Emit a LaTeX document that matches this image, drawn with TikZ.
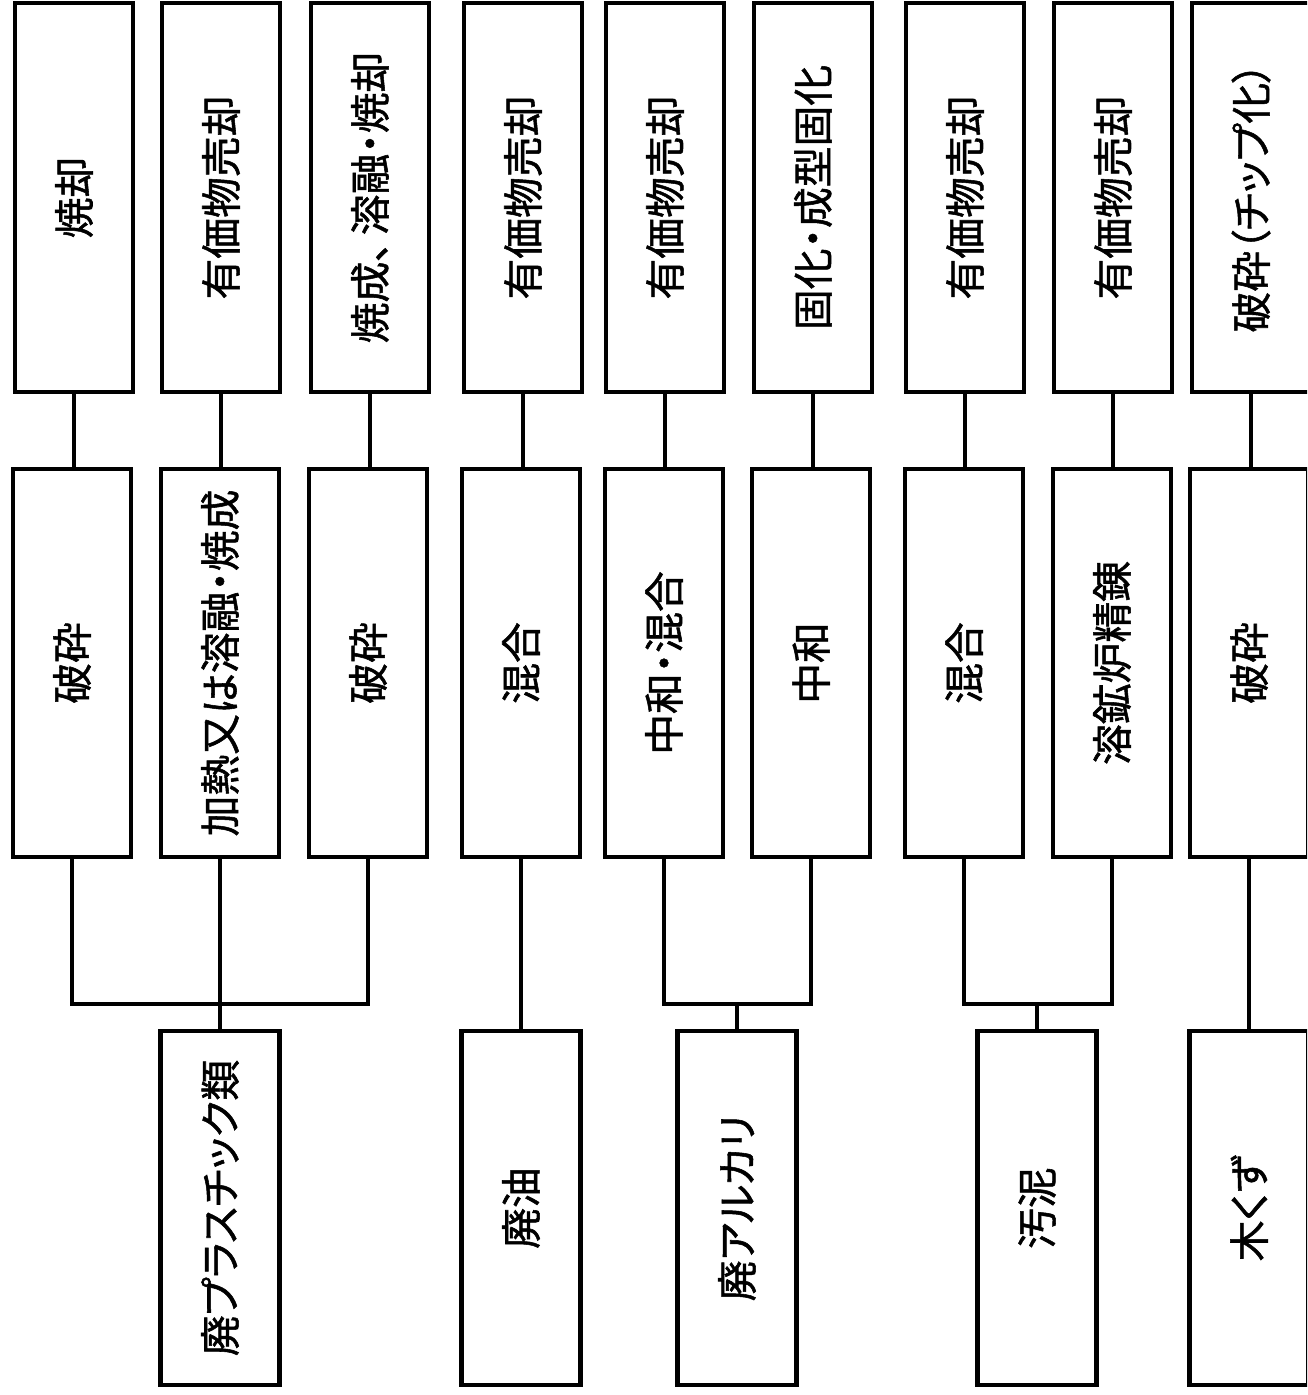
\documentclass[tikz,border=0pt]{standalone}
\usepackage{fontspec}
\setmainfont{Noto Sans CJK JP}[RawFeature={+palt}, FakeBold=1.3]
\usepackage{graphicx}
\usepackage{tikz}
\usetikzlibrary{positioning, calc}
\tikzset{
  flow/.style={
	x=0.01cm, y=-0.01cm, % one unit is one pixel of the sheet
	line width=1.3pt, % all lines as thick as the box borders
	every node/.style={font=\fontsize{11.6}{14}\selectfont},
  },
  procbox/.style={draw, line width=1.3pt, fill=white, inner sep=0pt, minimum width=1.18cm}, % a step of treatment
  topbox/.style={procbox, minimum height=3.89cm}, % last step
  midbox/.style={procbox, minimum height=3.88cm}, % first step
  wastebox/.style={procbox, minimum width=1.19cm, minimum height=3.54cm}, % kind of waste
}
\newcommand{\vtext}[1]{\rotatebox{90}{#1}}

\begin{document}
\begin{tikzpicture}[flow]
\clip (0,0) rectangle (1307,1395);
\fill[white] (0,0) rectangle (1307,1395);

% last steps
\node[topbox] (t1) at (74,197.5) {\vtext{焼却}};
\node[topbox] (t2) at (221,197.5) {\vtext{有価物売却}};
\node[topbox] (t3) at (370,197.5) {\vtext{焼成、\hspace{0.15em}溶融・焼却}};
\node[topbox] (t4) at (523,197.5) {\vtext{有価物売却}};
\node[topbox] (t5) at (665,197.5) {\vtext{有価物売却}};
\node[topbox] (t6) at (813,197.5) {\vtext{固化・成型固化}};
\node[topbox] (t7) at (965,197.5) {\vtext{有価物売却}};
\node[topbox] (t8) at (1113,197.5) {\vtext{有価物売却}};
\node[topbox] (t9) at (1251,197.5) {\vtext{破砕（チップ化）}};

% first steps
\node[midbox] (m1) at (72,663) {\vtext{破砕}};
\node[midbox] (m2) at (220,663) {\vtext{加熱又は溶融・焼成}};
\node[midbox] (m3) at (368,663) {\vtext{破砕}};
\node[midbox] (m4) at (521,663) {\vtext{混合}};
\node[midbox] (m5) at (664,663) {\vtext{中和・混合}};
\node[midbox] (m6) at (811,663) {\vtext{中和}};
\node[midbox] (m7) at (964,663) {\vtext{混合}};
\node[midbox] (m8) at (1112,663) {\vtext{溶鉱炉精錬}};
\node[midbox] (m9) at (1249,663) {\vtext{破砕}};

% kinds of waste
\node[wastebox] (w1) at (220,1208) {\vtext{廃プラスチック類}};
\node[wastebox] (w2) at (521,1208) {\vtext{廃油}};
\node[wastebox] (w3) at (737,1208) {\vtext{廃アルカリ}};
\node[wastebox] (w4) at (1037,1208) {\vtext{汚泥}};
\node[wastebox] (w5) at (1249,1208) {\vtext{木くず}};

\coordinate (jp) at (220,1004);
\coordinate (ja) at (737,1004);
\coordinate (js) at (1037,1004);

\draw (t1.south) -- (t1.south |- m1.north)
	(t2.south) -- (t2.south |- m2.north)
	(t3.south) -- (t3.south |- m3.north)
	(t4.south) -- (t4.south |- m4.north)
	(t5.south) -- (t5.south |- m5.north)
	(t6.south) -- (t6.south |- m6.north)
	(t7.south) -- (t7.south |- m7.north)
	(t8.south) -- (t8.south |- m8.north)
	(t9.south) -- (t9.south |- m9.north);

\draw (m1.south) |- (jp) -| (m3.south);
\draw (m2.south) -- (w1.north);
\draw (m4.south) -- (w2.north);
\draw (m5.south) |- (ja) -| (m6.south);
\draw (ja) -- (w3.north);
\draw (m7.south) |- (js) -| (m8.south);
\draw (js) -- (w4.north);
\draw (m9.south) -- (w5.north);
\end{tikzpicture}
\end{document}
